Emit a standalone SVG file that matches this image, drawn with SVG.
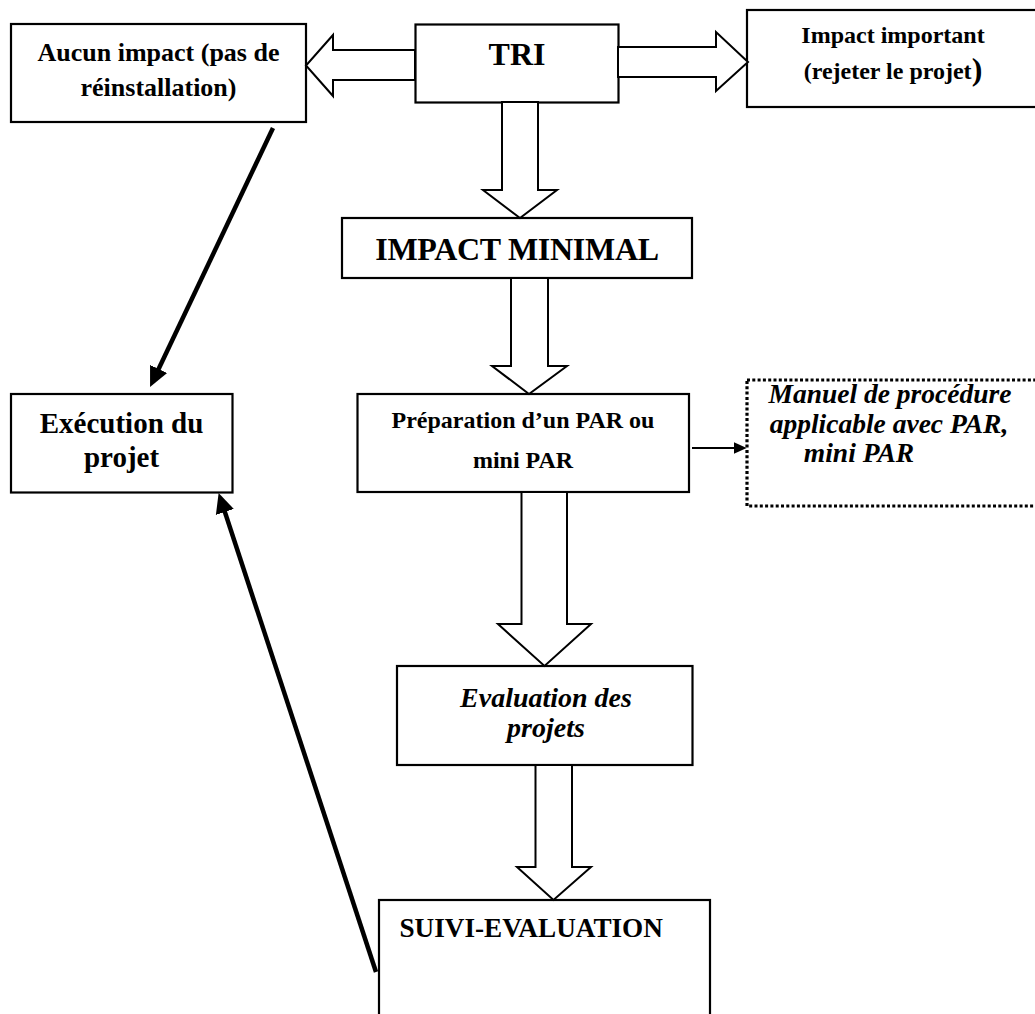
<svg xmlns="http://www.w3.org/2000/svg" width="1035" height="1014" viewBox="0 0 1035 1014">
<defs>
<style>
.box{fill:#fff;stroke:#000;stroke-width:2.2}
.dot{fill:#fff;stroke:#000;stroke-width:3.2;stroke-dasharray:3 2.3}
.blk{fill:#fff;stroke:#000;stroke-width:2;stroke-linejoin:miter}
.t{font-family:"Liberation Serif","Times New Roman",serif;font-weight:bold;fill:#000;text-anchor:middle}
.i{font-style:italic}
.thick{stroke:#000;stroke-width:4.5;fill:none}
.thin{stroke:#000;stroke-width:2;fill:none}
</style>
<marker id="big" markerUnits="userSpaceOnUse" markerWidth="20" markerHeight="20" viewBox="0 0 18 17" refX="8" refY="8.5" orient="auto">
<path d="M0,0 L18,8.5 L0,17 z" fill="#000"/>
</marker>
<marker id="small" markerUnits="userSpaceOnUse" markerWidth="13" markerHeight="13" viewBox="0 0 12 11" refX="4" refY="5.5" orient="auto">
<path d="M0,0 L12,5.5 L0,11 z" fill="#000"/>
</marker>
</defs>
<rect width="1035" height="1014" fill="#fff"/>

<g id="aucun">
<rect class="box" x="11" y="24" width="295" height="98"/>
<text class="t" x="158.5" y="61" font-size="26">Aucun impact (pas de</text>
<text class="t" x="158.5" y="96" font-size="26">réinstallation)</text>
</g>

<g id="tri">
<rect class="box" x="415.5" y="24.5" width="203" height="78"/>
<text class="t" x="517" y="65" font-size="32">TRI</text>
</g>

<g id="impact-important">
<rect class="box" x="747" y="10" width="300" height="97"/>
<text class="t" x="893" y="43" font-size="24">Impact important</text>
<text class="t" x="893" y="79" font-size="24">(rejeter le projet<tspan font-size="32" dy="1">)</tspan></text>
</g>

<g id="impact-minimal">
<rect class="box" x="342" y="218" width="350" height="60"/>
<text class="t" x="517" y="260" font-size="32" letter-spacing="-0.3">IMPACT MINIMAL</text>
</g>

<g id="preparation">
<rect class="box" x="357.5" y="394" width="331.5" height="98"/>
<text class="t" x="523" y="428" font-size="24">Préparation d’un PAR ou</text>
<text class="t" x="523" y="468" font-size="24">mini PAR</text>
</g>

<g id="manuel">
<rect class="dot" x="747" y="380" width="300" height="126"/>
<text class="t i" x="890" y="403" font-size="27.5">Manuel de procédure</text>
<text class="t i" x="889" y="433" font-size="27.5">applicable avec PAR,</text>
<text class="t i" x="859" y="462" font-size="27.5">mini PAR</text>
</g>

<g id="execution">
<rect class="box" x="11" y="394" width="221.5" height="98.5"/>
<text class="t" x="121.5" y="433" font-size="29">Exécution du</text>
<text class="t" x="121.5" y="467" font-size="29">projet</text>
</g>

<g id="evaluation">
<rect class="box" x="397" y="666" width="295.5" height="99"/>
<text class="t i" x="546" y="707" font-size="28">Evaluation des</text>
<text class="t i" x="546" y="737" font-size="28">projets</text>
</g>

<g id="suivi">
<rect class="box" x="379" y="900" width="331" height="130"/>
<text class="t" x="399.5" y="937" font-size="27.2" style="text-anchor:start">SUIVI-EVALUATION</text>
</g>

<g id="connectors">
<polygon class="blk" points="415,50 333,50 333,35 306,65.5 333,96 333,80 415,80"/>
<polygon class="blk" points="618,47 716,47 716,32 748,62 716,91 716,77 618,77"/>
<polygon class="blk" points="502,102 502,190 483,190 520,218 557,190 538,190 538,102"/>
<polygon class="blk" points="511,278 511,366 492,366 529,394 567,366 548,366 548,278"/>
<polygon class="blk" points="521.5,492 521.5,624 498,624 544.5,666 591,624 567,624 567,492"/>
<polygon class="blk" points="535.5,765 535.5,867 517,867 553.5,900 591,867 572,867 572,765"/>
<line class="thin" x1="692" y1="448" x2="738" y2="448" marker-end="url(#small)"/>
<line class="thick" x1="273" y1="128" x2="154.8" y2="377" marker-end="url(#big)"/>
<line class="thick" x1="376" y1="972" x2="222.1" y2="503.5" marker-end="url(#big)"/>
</g>
</svg>
